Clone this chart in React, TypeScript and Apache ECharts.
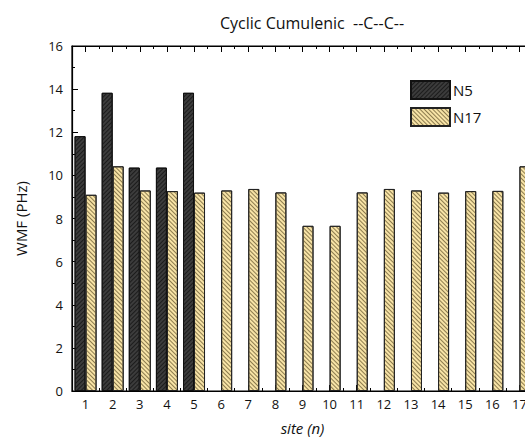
import React, { useEffect, useRef } from "react";
import * as echarts from "echarts";

const sites = ["1","2","3","4","5","6","7","8","9","10","11","12","13","14","15","16","17"];
const n5Values = [11.82, 13.83, 10.36, 10.36, 13.83, null, null, null, null, null, null, null, null, null, null, null, null];
const n17Values = [9.1, 10.42, 9.3, 9.27, 9.2, 9.3, 9.37, 9.21, 7.66, 7.66, 9.21, 9.37, 9.3, 9.2, 9.27, 9.28, 10.42];
const yTicks = { min: 0, max: 16, interval: 2 };

const FONT = "'Open Sans', 'Noto Sans', sans-serif";

export default function App() {
  const ref = useRef<HTMLDivElement>(null);
  useEffect(() => {
    if (!ref.current) return;
    const chart = echarts.init(ref.current, undefined, { renderer: "svg" });
    const gridBox = { left: 72, top: 46, bottom: 52, right: -8, outerBoundsMode: "none" };
    chart.setOption({
      animation: false,
      backgroundColor: "#ffffff",
      title: {
        text: "Cyclic Cumulenic  --C--C--",
        left: 307,
        top: 10,
        textAlign: "center",
        textStyle: { fontFamily: FONT, fontSize: 16, fontWeight: "normal", color: "#111" },
      },
      legend: {
        orient: "vertical",
        left: 405,
        top: 75,
        icon: "rect",
        itemWidth: 39,
        itemHeight: 18,
        itemGap: 7,
        textStyle: { fontFamily: FONT, fontSize: 15, color: "#111", padding: [0, 0, 0, -2] },
        data: ["N5", "N17"],
      },
      grid: [
        { ...gridBox, show: true, borderColor: "#000", borderWidth: 1.2, backgroundColor: "transparent" },
        { ...gridBox },
      ],
      xAxis: [
        {
          type: "category",
          data: sites,
          gridIndex: 0,
          position: "bottom",
          name: "site (n)",
          nameLocation: "middle",
          nameGap: 29,
          nameTextStyle: { fontFamily: FONT, fontSize: 15, fontStyle: "italic", color: "#111" },
          axisLine: { show: true, onZero: false, lineStyle: { color: "#000", width: 1.2 } },
          axisTick: { show: true, inside: true, alignWithLabel: true, length: 6, lineStyle: { color: "#000" } },
          axisLabel: { fontFamily: FONT, fontSize: 13, color: "#111", margin: 6 },
          splitLine: { show: false },
        },
        {
          type: "category",
          data: sites,
          gridIndex: 0,
          position: "top",
          axisLine: { show: true, onZero: false, lineStyle: { color: "#000", width: 1.2 } },
          axisTick: { show: true, inside: true, alignWithLabel: true, length: 6, lineStyle: { color: "#000" } },
          axisLabel: { show: false },
          splitLine: { show: false },
        },
        {
          type: "category",
          data: sites,
          gridIndex: 1,
          position: "bottom",
          axisLine: { show: false, onZero: false },
          axisTick: { show: true, inside: true, length: 3, lineStyle: { color: "#000" } },
          axisLabel: { show: false },
          splitLine: { show: false },
        },
        {
          type: "category",
          data: sites,
          gridIndex: 1,
          position: "top",
          axisLine: { show: false, onZero: false },
          axisTick: { show: true, inside: true, length: 3, lineStyle: { color: "#000" } },
          axisLabel: { show: false },
          splitLine: { show: false },
        },
      ],
      yAxis: [
        {
          type: "value",
          gridIndex: 0,
          min: yTicks.min,
          max: yTicks.max,
          interval: yTicks.interval,
          name: "WMF (PHz)",
          nameLocation: "middle",
          nameGap: 44,
          nameTextStyle: { fontFamily: FONT, fontSize: 15, color: "#111" },
          axisLine: { show: true, lineStyle: { color: "#000", width: 1.2 } },
          axisTick: { show: true, inside: true, length: 6, lineStyle: { color: "#000" } },
          minorTick: { show: true, splitNumber: 2, length: 3, lineStyle: { color: "#000" } },
          axisLabel: { fontFamily: FONT, fontSize: 13, color: "#111", margin: 9 },
          splitLine: { show: false },
        },
        {
          type: "value",
          gridIndex: 1,
          min: yTicks.min,
          max: yTicks.max,
          interval: yTicks.interval,
          show: false,
        },
      ],
      series: [
        {
          name: "N5",
          type: "bar",
          xAxisIndex: 0,
          yAxisIndex: 0,
          data: n5Values,
          barWidth: 11,
          barGap: "0%",
          itemStyle: {
            color: "#3c3c3c",
            borderColor: "#111",
            borderWidth: 1,
            decal: {
              symbol: "rect",
              symbolSize: 1,
              color: "#1c1c1c",
              dashArrayX: [1, 0],
              dashArrayY: [1, 2],
              rotation: -Math.PI / 4,
            },
          },
        },
        {
          name: "N17",
          type: "bar",
          xAxisIndex: 0,
          yAxisIndex: 0,
          data: n17Values,
          barWidth: 11,
          barGap: "0%",
          itemStyle: {
            color: "#f7e3a6",
            borderColor: "#222",
            borderWidth: 1,
            decal: {
              symbol: "rect",
              symbolSize: 1,
              color: "#8c7b4e",
              dashArrayX: [1, 0],
              dashArrayY: [1, 2],
              rotation: Math.PI / 4,
            },
          },
        },
      ],
    });
    return () => chart.dispose();
  }, []);
  return <div ref={ref} style={{ width: 525, height: 443, position: "absolute", left: 0, top: 0 }} />;
}
